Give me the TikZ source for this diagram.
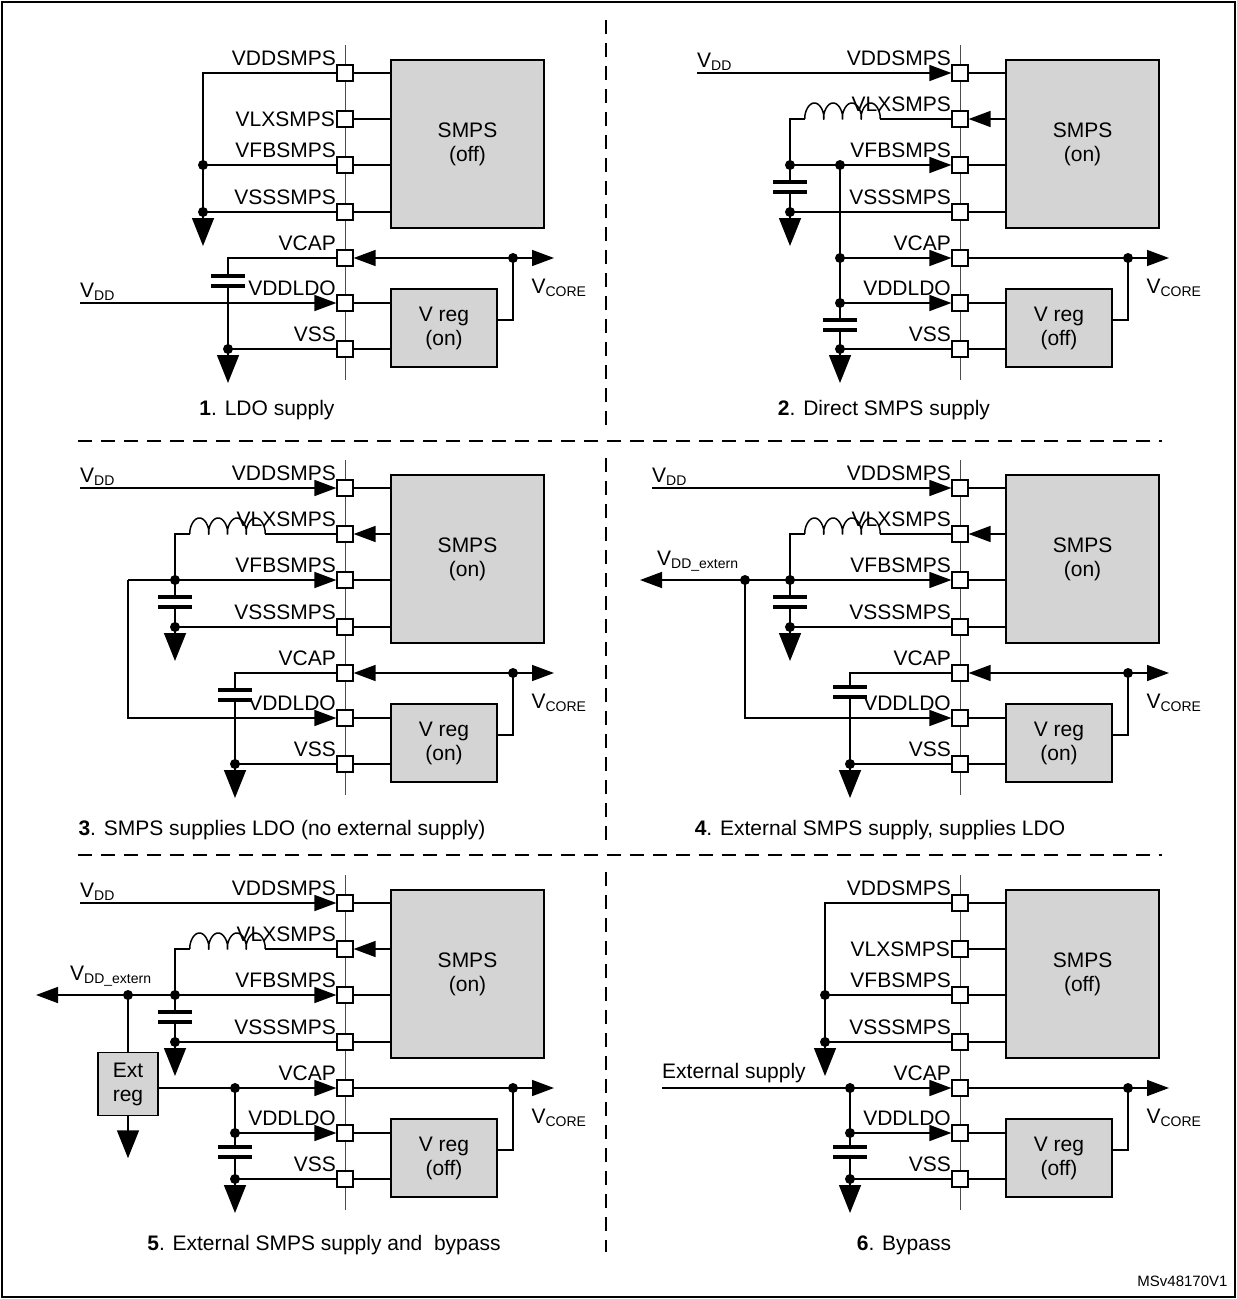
\documentclass[tikz,border=0pt]{standalone}
\usepackage{fontspec}
\setmainfont{Liberation Sans}
\usetikzlibrary{arrows.meta}
\newcommand\sbt[1]{\raisebox{-0.3ex}{\fontsize{14}{14}\selectfont #1}}
\newcommand\gndat[1]{\draw[wire,-{Triangle[length=28pt,width=22pt]}] (#1) -- ++(0,34);}
\newcommand\dotat[1]{\fill (#1) circle (5pt);}
\newcommand\capat[1]{\begin{scope}[shift={(#1)}]\fill[white] (-19,-3) rectangle (19,3);
 \draw[line width=4.5pt] (-17,-5) -- (17,-5); \draw[line width=4.5pt] (-17,5) -- (17,5);\end{scope}}
\newcommand\coil[2]{\draw[wire] plot[domain=0:25.1327,samples=160,variable=\t] ({#1+2.984*\t-3.6*sin(\t r)},{#2-8*(1-cos(\t r))});}
\newcommand\basepanel[6]{%
\begin{scope}[shift={(#2,#3)}]
\draw[bus] (345,45) -- (345,380);
\node[box, minimum width=153pt, minimum height=168pt] (#1smps) at (467.5,144) {SMPS\\(#4)};
\node[box, minimum width=106pt, minimum height=78pt] (#1vreg) at (444,328) {V reg\\(#5)};
\foreach \n/\yy in {a/73,b/119,c/165,d/212,e/258,f/303,g/349} {\node[pinsq] (#1\n) at (345,\yy) {};}
\foreach \n in {a,c,d} {\draw[thinw] (#1\n.east) -- (#1\n.east -| #1smps.west);}
\foreach \n in {f,g} {\draw[thinw] (#1\n.east) -- (#1\n.east -| #1vreg.west);}
\node[lbl] at (336,65) {VDDSMPS};
\node[lbl] at (336,157) {VFBSMPS};
\node[lbl] at (336,204) {VSSSMPS};
\node[lbl] at (336,250) {VCAP};
\node[lbl] at (336,295) {VDDLDO};
\node[lbl] at (336,341) {VSS};
\coordinate (#1out) at (513,258);
\draw[wire] (#1vreg.east |- 0,320) -- (513,320) -- (#1out);
\draw[wire,#6] (#1e.east) -- (554,258);
\dotat{#1out}
\node[anchor=base west] at (528,293) {V\sbt{CORE}};
\end{scope}}
\newcommand\vlxarrow[3]{\begin{scope}[shift={(#2,#3)}]
\draw[wire,arr] (#1b.east -| #1smps.west) -- (#1b.east);
\node[lbl] at (336,111) {VLXSMPS};
\draw[wire] (175,165) -- (175,119) -- (190,119);
\coil{190}{119}
\draw[wire] (265,119) -- (#1b.west);
\end{scope}}
\begin{document}
\begin{tikzpicture}[x=1pt,y=-1pt,
  every node/.style={font=\fontsize{21}{24}\selectfont},
  wire/.style={line width=1.5pt},
  thinw/.style={line width=1.2pt},
  bus/.style={line width=1pt, black!70},
  arr/.style={-{Triangle[length=22pt,width=16pt]}},
  both/.style={{Triangle[length=22pt,width=16pt]}-{Triangle[length=22pt,width=16pt]}},
  box/.style={draw, fill=black!17, line width=1.5pt, align=center, inner sep=0pt},
  pinsq/.style={draw, fill=white, minimum size=16pt, inner sep=0pt, line width=1.2pt},
  lbl/.style={anchor=base east, inner sep=0pt},
  dsh/.style={line width=1.3pt, dash pattern=on 14pt off 9pt}]
\useasboundingbox (0,0) rectangle (1237,1299);
\draw[line width=1.5pt] (2,2) rectangle (1235,1297);
\draw[dsh] (606,20) -- (606,428);
\draw[dsh] (606,458) -- (606,842);
\draw[dsh] (606,872) -- (606,1252);
\draw[dsh] (78,441) -- (1162,441);
\draw[dsh] (78,855) -- (1162,855);

% ---------- Panel 1
\basepanel{A}{0}{0}{off}{on}{both}
\draw[thinw] (Ab.east) -- (Ab.east -| Asmps.west);
\node[anchor=east, inner sep=0pt] at (335,119) {VLXSMPS};
\draw[wire] (Aa.west) -- (203,73) -- (203,212);
\draw[wire] (203,165) -- (Ac.west);
\draw[wire] (203,212) -- (Ad.west);
\dotat{203,165}\dotat{203,212}\gndat{203,212}
\draw[wire] (Ae.west) -- (228,258) -- (228,349) -- (Ag.west);
\dotat{228,349}\gndat{228,349}
\draw[wire,arr] (80,303) -- (Af.west);
\capat{228,281}
\node[anchor=base west, inner sep=0pt] at (80,297) {V\sbt{DD}};
\node at (267,410) {\textbf{1}. LDO supply};

% ---------- Panel 2
\basepanel{B}{615}{0}{on}{off}{arr}
\vlxarrow{B}{615}{0}
\begin{scope}[shift={(615,0)}]
\draw[wire,arr] (82,73) -- (Ba.west);
\node[anchor=base west, inner sep=0pt] at (82,67) {V\sbt{DD}};
\draw[wire,arr] (175,165) -- (Bc.west);
\draw[wire] (175,165) -- (175,212) -- (Bd.west);
\dotat{175,165}\dotat{175,212}\gndat{175,212}
\capat{175,187}
\draw[wire] (225,165) -- (225,349) -- (Bg.west);
\draw[wire,arr] (225,258) -- (Be.west);
\draw[wire,arr] (225,303) -- (Bf.west);
\dotat{225,165}\dotat{225,258}\dotat{225,303}\dotat{225,349}\gndat{225,349}
\capat{225,325}
\end{scope}
\node at (884,410) {\textbf{2}. Direct SMPS supply};

% ---------- Panel 3
\basepanel{C}{0}{415}{on}{on}{both}
\vlxarrow{C}{0}{415}
\begin{scope}[shift={(0,415)}]
\draw[wire,arr] (80,73) -- (Ca.west);
\node[anchor=base west, inner sep=0pt] at (80,67) {V\sbt{DD}};
\draw[wire,arr] (128,165) -- (Cc.west);
\draw[wire,arr] (128,165) -- (128,303) -- (Cf.west);
\draw[wire] (175,165) -- (175,212) -- (Cd.west);
\dotat{175,165}\dotat{175,212}\gndat{175,212}
\capat{175,187}
\draw[wire] (Ce.west) -- (235,258) -- (235,349) -- (Cg.west);
\dotat{235,349}\gndat{235,349}
\capat{235,280}
\end{scope}
\node at (282,830) {\textbf{3}. SMPS supplies LDO (no external supply)};

% ---------- Panel 4
\basepanel{D}{615}{415}{on}{on}{both}
\vlxarrow{D}{615}{415}
\begin{scope}[shift={(615,415)}]
\draw[wire,arr] (37,73) -- (Da.west);
\node[anchor=base west, inner sep=0pt] at (37,67) {V\sbt{DD}};
\coordinate (Dext) at (25,165);
\draw[wire,arr] (175,165) -- (Dext);
\node[anchor=base west, inner sep=0pt] at (42,150) {V\sbt{DD\_extern}};
\draw[wire,arr] (175,165) -- (Dc.west);
\draw[wire,arr] (130,165) -- (130,303) -- (Df.west);
\draw[wire] (175,165) -- (175,212) -- (Dd.west);
\dotat{130,165}\dotat{175,165}\dotat{175,212}\gndat{175,212}
\capat{175,187}
\draw[wire] (De.west) -- (235,258) -- (235,349) -- (Dg.west);
\dotat{235,349}\gndat{235,349}
\capat{235,277}
\end{scope}
\node at (880,830) {\textbf{4}. External SMPS supply, supplies LDO};

% ---------- Panel 5
\basepanel{E}{0}{830}{on}{off}{arr}
\vlxarrow{E}{0}{830}
\begin{scope}[shift={(0,830)}]
\draw[wire,arr] (80,73) -- (Ea.west);
\node[anchor=base west, inner sep=0pt] at (80,67) {V\sbt{DD}};
\coordinate (Eext) at (36,165);
\draw[wire,arr] (175,165) -- (Eext);
\node[anchor=base west, inner sep=0pt] at (70,150) {V\sbt{DD\_extern}};
\draw[wire,arr] (175,165) -- (Ec.west);
\node[box, minimum width=60pt, minimum height=63pt] (Ereg) at (128,254) {Ext\\reg};
\draw[wire] (128,165) -- (Ereg.north);
\draw[wire,-{Triangle[length=28pt,width=22pt]}] (Ereg.south) -- ++(0,42);
\draw[wire] (175,165) -- (175,212) -- (Ed.west);
\dotat{128,165}\dotat{175,165}\dotat{175,212}\gndat{175,212}
\capat{175,187}
\draw[wire,arr] (Ereg.east |- 0,258) -- (Ee.west);
\draw[wire] (235,258) -- (235,349) -- (Eg.west);
\draw[wire,arr] (235,303) -- (Ef.west);
\dotat{235,258}\dotat{235,303}\dotat{235,349}\gndat{235,349}
\capat{235,322}
\end{scope}
\node at (324,1245) {\textbf{5}. External SMPS supply and\ \ bypass};

% ---------- Panel 6
\basepanel{F}{615}{830}{off}{off}{arr}
\begin{scope}[shift={(615,830)}]
\draw[thinw] (Fb.east) -- (Fb.east -| Fsmps.west);
\node[anchor=east, inner sep=0pt] at (335,119) {VLXSMPS};
\draw[wire] (Fa.west) -- (210,73) -- (210,212);
\draw[wire] (210,165) -- (Fc.west);
\draw[wire] (210,212) -- (Fd.west);
\dotat{210,165}\dotat{210,212}\gndat{210,212}
\coordinate (Fsup) at (47,258);
\node[anchor=base west, inner sep=0pt] at (47,248) {External supply};
\draw[wire,arr] (Fsup) -- (Fe.west);
\draw[wire] (235,258) -- (235,349) -- (Fg.west);
\draw[wire,arr] (235,303) -- (Ff.west);
\dotat{235,258}\dotat{235,303}\dotat{235,349}\gndat{235,349}
\capat{235,322}
\end{scope}
\node at (904,1245) {\textbf{6}. Bypass};

\node[anchor=east, font=\fontsize{15}{17}\selectfont] at (1231,1281) {MSv48170V1};
\end{tikzpicture}
\end{document}
